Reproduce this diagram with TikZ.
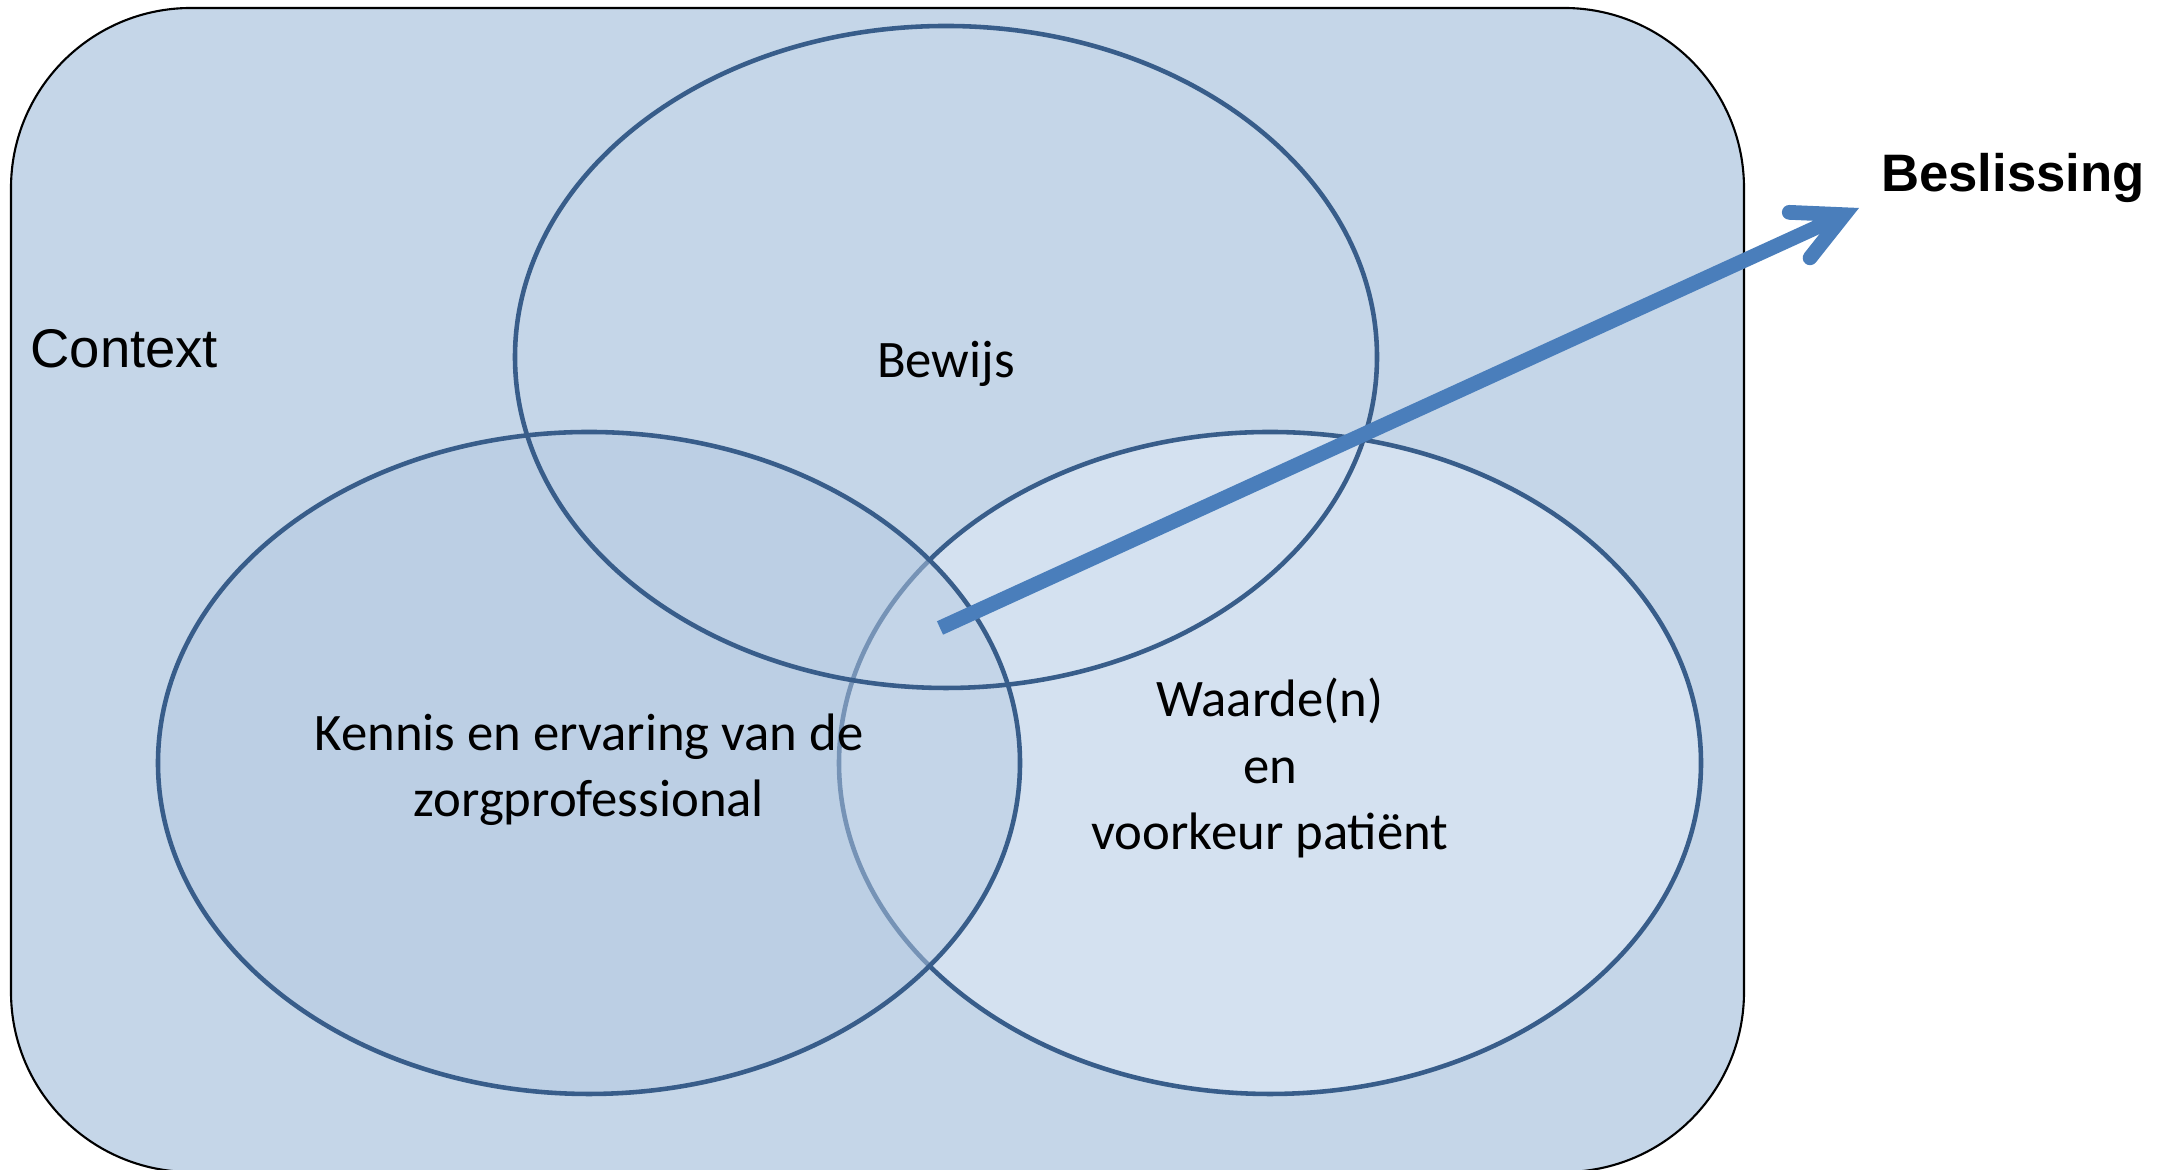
\documentclass[tikz,border=0pt]{standalone}
\usepackage{fontspec}
\setmainfont{Carlito}
\newfontfamily\arialfont{Liberation Sans}
\usetikzlibrary{shapes.geometric,arrows.meta,positioning}
\definecolor{ctxblue}{HTML}{C5D6E8}
\definecolor{leftblue}{HTML}{B5CAE2}
\definecolor{rightblue}{HTML}{D4E1F0}
\definecolor{ringblue}{HTML}{385D8A}
\definecolor{arrowblue}{HTML}{4A7EBB}

\begin{document}
\begin{tikzpicture}[ring/.style={ellipse, draw=ringblue, line width=1.3pt, minimum width=8.62cm, minimum height=6.62cm, inner sep=0pt},
    ringtext/.style={align=center, font=\fontsize{15}{18.8}\selectfont},
    context/.style={draw=black, line width=0.6pt, fill=ctxblue, rounded corners=1.8cm},
    decision/.style={draw=arrowblue, line width=4.2pt, -{Straight Barb[length=4.9mm, width=5mm, line cap=round]}}]
    \useasboundingbox (0,0) rectangle (21.64,11.70);
    \draw[context] (0.11,-0.02) rectangle (17.44,11.62);
    \node [anchor=base west, font=\arialfont\fontsize{15.5}{18}\selectfont] (ctx) at (0.18,8.02) {Context};
    \node [ring, fill=rightblue] (waarde) at (12.70,4.07) {};
    \node [ring, fill=leftblue, fill opacity=0.5] (kennis) at (5.89,4.07) {};
    \node [ring] (bewijs) at (9.46,8.13) {};
    %\draw[->]  (kennis) -- (bewijs);
    \node [ringtext] (bewijstxt) at ([yshift=-0.07cm]bewijs.center) {Bewijs};
    \node [ringtext] (kennistxt) at ([yshift=-0.07cm]kennis.center) {Kennis en ervaring van de\\zorgprofessional};
    \node [ringtext] (waardetxt) at ([yshift=-0.05cm]waarde.center) {Waarde(n)\\en\\voorkeur patiënt};
    \node [anchor=base, font=\arialfont\bfseries\fontsize{15}{18}\selectfont] (beslissing) at (20.13,9.78) {Beslissing};
    \coordinate (start) at (9.40,5.42);
    \coordinate (tip) at (18.59,9.62);
    \draw[decision] (start) -- (tip);
\end{tikzpicture}
\end{document}
